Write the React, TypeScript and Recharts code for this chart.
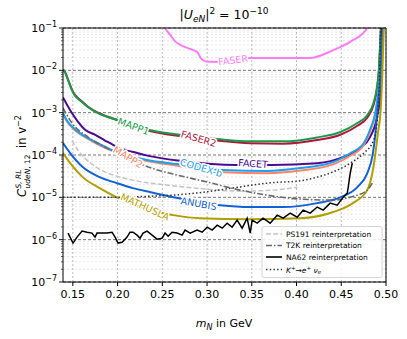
import React from 'react';
import { LineChart, Line, XAxis, YAxis, CartesianGrid, ReferenceDot } from 'recharts';

const FONT = '"DejaVu Sans", Verdana, sans-serif';

// axes
const xTicks = [0.15, 0.2, 0.25, 0.3, 0.35, 0.4, 0.45, 0.5];
const yDecades = [1e-7, 1e-6, 1e-5, 1e-4, 1e-3, 1e-2, 1e-1];
const minorSteps = [2, 3, 4, 5, 6, 7, 8, 9];
const yMinor = yDecades.slice(0, -1).flatMap((d) => minorSteps.map((s) => +(s * d).toPrecision(2)));

// FASER
const faserM = [0.25, 0.253, 0.259, 0.264, 0.27, 0.281, 0.289, 0.293, 0.299, 0.311, 0.33, 0.348, 0.38, 0.415, 0.441, 0.46, 0.479, 0.482];
const faserC = [0.13, 0.1, 0.068, 0.049, 0.04, 0.032, 0.027, 0.0195, 0.0162, 0.0158, 0.0175, 0.0195, 0.0195, 0.0195, 0.03, 0.047, 0.1, 0.13];

// MAPP1 / FASER2 share a mass grid
const mappM = [0.139, 0.141, 0.1446, 0.149, 0.152, 0.16, 0.167, 0.178, 0.189, 0.2005, 0.236, 0.27, 0.311, 0.348, 0.385, 0.423, 0.449, 0.468, 0.479, 0.486, 0.49, 0.492, 0.494, 0.4945];
const mapp1C = [1.02e-2, 9.1e-3, 5.9e-3, 3.4e-3, 2.6e-3, 1.8e-3, 1.35e-3, 9.8e-4, 7.9e-4, 6.7e-4, 3.9e-4, 3.0e-4, 2.4e-4, 2.1e-4, 2.1e-4, 2.6e-4, 3.5e-4, 5.7e-4, 8.7e-4, 1.7e-3, 4.1e-3, 1.0e-2, 7.6e-2, 1.2e-1];
const faser2C = [1.05e-2, 9.4e-3, 6.1e-3, 3.5e-3, 2.7e-3, 1.85e-3, 1.38e-3, 1.0e-3, 8.0e-4, 6.6e-4, 3.7e-4, 2.8e-4, 2.2e-4, 1.9e-4, 1.85e-4, 2.25e-4, 3.0e-4, 4.9e-4, 7.6e-4, 1.5e-3, 3.7e-3, 9.5e-3, 7.0e-2, 1.2e-1];

// FACET
const facetM = [0.139, 0.149, 0.156, 0.164, 0.175, 0.186, 0.2, 0.222, 0.236, 0.272, 0.332, 0.372, 0.423, 0.452, 0.471, 0.482, 0.49, 0.494, 0.4955];
const facetC = [2.3e-3, 9.8e-4, 6.0e-4, 3.9e-4, 3.0e-4, 2.2e-4, 1.54e-4, 1.11e-4, 9.4e-5, 7.2e-5, 5.8e-5, 5.8e-5, 6.4e-5, 8.9e-5, 1.45e-4, 2.6e-4, 7.9e-4, 3.0e-3, 1.2e-1];

// CODEX-b / MAPP2 share a mass grid
const codexM = [0.139, 0.143, 0.152, 0.167, 0.18, 0.194, 0.233, 0.267, 0.318, 0.367, 0.404, 0.441, 0.46, 0.475, 0.482, 0.488, 0.491, 0.494, 0.496, 0.497];
const codexC = [9.8e-4, 6.7e-4, 4.1e-4, 2.5e-4, 1.8e-4, 1.3e-4, 7.6e-5, 6.1e-5, 4.4e-5, 4.2e-5, 4.9e-5, 6.8e-5, 1.1e-4, 1.9e-4, 3.9e-4, 9.8e-4, 2.6e-3, 1.0e-2, 3.9e-2, 1.0e-1];
const mapp2C = [9.5e-4, 6.4e-4, 3.9e-4, 2.4e-4, 1.7e-4, 1.25e-4, 7.2e-5, 5.6e-5, 3.9e-5, 3.7e-5, 4.3e-5, 6.0e-5, 9.6e-5, 1.7e-4, 3.5e-4, 9.0e-4, 2.4e-3, 9.5e-3, 3.8e-2, 1.0e-1];

// ANUBIS
const anubisM = [0.139, 0.147, 0.161, 0.18, 0.199, 0.217, 0.236, 0.267, 0.315, 0.348, 0.385, 0.423, 0.449, 0.468, 0.479, 0.485, 0.488, 0.49, 0.493, 0.495, 0.4965];
const anubisC = [1.91e-4, 1.11e-4, 5.2e-5, 3.0e-5, 2.17e-5, 1.65e-5, 1.33e-5, 9.6e-6, 6.5e-6, 5.9e-6, 5.9e-6, 7.3e-6, 1.0e-5, 1.74e-5, 3.7e-5, 9.95e-5, 2.95e-4, 8.8e-4, 4.5e-3, 2.3e-2, 1.0e-1];

// MATHUSLA
const mathuslaM = [0.139, 0.147, 0.161, 0.18, 0.199, 0.22, 0.24, 0.262, 0.292, 0.348, 0.404, 0.441, 0.463, 0.479, 0.486, 0.491, 0.494, 0.496, 0.4975];
const mathuslaC = [1.11e-4, 6.4e-5, 3.0e-5, 1.65e-5, 1.0e-5, 6.5e-6, 4.7e-6, 3.8e-6, 3.2e-6, 3.05e-6, 3.2e-6, 4.5e-6, 7.3e-6, 1.48e-5, 5.2e-5, 3.3e-4, 1.15e-3, 1.0e-2, 1.0e-1];

// reinterpretations
const ps191M = [0.149, 0.155, 0.161, 0.167, 0.18, 0.199, 0.217, 0.236, 0.255, 0.3, 0.337, 0.374, 0.401];
const ps191C = [2.2e-4, 1.37e-4, 9.4e-5, 7.2e-5, 4.6e-5, 3.17e-5, 2.55e-5, 2.17e-5, 1.95e-5, 1.56e-5, 1.4e-5, 1.48e-5, 1.74e-5];

const t2kM = [0.139, 0.149, 0.167, 0.186, 0.205, 0.223, 0.242, 0.262, 0.3, 0.337, 0.374, 0.404, 0.441, 0.46, 0.479, 0.486];
const t2kC = [1.29e-3, 5.7e-4, 2.65e-4, 1.54e-4, 9.4e-5, 6.4e-5, 4.6e-5, 3.55e-5, 2.3e-5, 1.48e-5, 1.07e-5, 9.1e-6, 8.6e-6, 1.01e-5, 1.48e-5, 2.4e-5];

const na62M = [0.1446, 0.1502, 0.1547, 0.1603, 0.1658, 0.1714, 0.1748, 0.177, 0.1826, 0.1882, 0.1938, 0.1972, 0.2005, 0.205, 0.2106, 0.2139, 0.2173, 0.2218, 0.2251, 0.2285, 0.233, 0.2386, 0.2441, 0.2497, 0.2531, 0.2565, 0.2609, 0.2665, 0.2721, 0.2755, 0.2811, 0.2889, 0.2945, 0.3001, 0.3057, 0.3113, 0.3169, 0.3224, 0.328, 0.3336, 0.3392, 0.3448, 0.3482, 0.3504, 0.356, 0.3627, 0.3705, 0.3784, 0.3851, 0.3929, 0.4007, 0.4074, 0.4153, 0.4231, 0.4298, 0.4376, 0.4455, 0.4522, 0.4567, 0.4578, 0.46, 0.4623];
const na62C = [1.43e-6, 8.3e-7, 1.15e-6, 1.59e-6, 1.5e-6, 1.43e-6, 1.15e-6, 1.43e-6, 1.43e-6, 1.43e-6, 1.5e-6, 1.15e-6, 8.3e-7, 8.7e-7, 1.15e-6, 1.5e-6, 1.5e-6, 1.28e-6, 1.08e-6, 1.43e-6, 1.59e-6, 1.28e-6, 1.03e-6, 1.08e-6, 1.43e-6, 1.21e-6, 1.5e-6, 1.43e-6, 1.28e-6, 1.68e-6, 1.43e-6, 1.68e-6, 1.5e-6, 1.98e-6, 1.68e-6, 2.2e-6, 1.87e-6, 2.45e-6, 1.98e-6, 2.89e-6, 1.87e-6, 3.22e-6, 1.43e-6, 2.89e-6, 2.45e-6, 3.22e-6, 2.45e-6, 3.79e-6, 3.22e-6, 4.23e-6, 3.4e-6, 4.98e-6, 4.23e-6, 5.9e-6, 4.98e-6, 7.3e-6, 6.5e-6, 1.01e-5, 1.26e-5, 1.74e-5, 3.73e-5, 6.44e-5];

const kenuM = [0.139, 0.2, 0.22, 0.24, 0.259, 0.296, 0.334, 0.371, 0.404, 0.423, 0.441, 0.46, 0.475, 0.486, 0.49, 0.492, 0.494];
const kenuC = [1.0e-5, 1.0e-5, 1.03e-5, 1.07e-5, 1.12e-5, 1.32e-5, 1.73e-5, 2.2e-5, 2.45e-5, 3.0e-5, 4.0e-5, 6.4e-5, 1.1e-4, 2.2e-4, 6.0e-4, 2.0e-3, 1.2e-1];

const zip = (m: number[], c: number[]) => m.map((x, i) => ({ m: x, c: c[i] }));

const C = {
  faser: '#ff7cf5',
  mapp1: '#1c9a48',
  faser2: '#b0163e',
  facet: '#4b0b8e',
  codex: '#1ea0ee',
  mapp2: '#fa8466',
  anubis: '#1261d6',
  mathusla: '#b39e00',
};

// inline curve labels (text placed on the curves)
const curveLabels = [
  { text: 'FASER', m: 0.3292, c: 1.75e-2, angle: -7, color: C.faser },
  { text: 'MAPP1', m: 0.2179, c: 4.8e-4, angle: 20, color: C.mapp1 },
  { text: 'FASER2', m: 0.2906, c: 2.44e-4, angle: 16, color: C.faser2 },
  { text: 'FACET', m: 0.3515, c: 6.3e-5, angle: 4, color: C.facet },
  { text: 'MAPP2', m: 0.2117, c: 9.0e-5, angle: 31, color: C.mapp2 },
  { text: 'CODEX-b', m: 0.2934, c: 5.0e-5, angle: 16, color: C.codex },
  { text: 'ANUBIS', m: 0.2906, c: 7.1e-6, angle: 10, color: C.anubis },
  { text: 'MATHUSLA', m: 0.2307, c: 6.0e-6, angle: 24, color: C.mathusla },
];

const YTick = (props: any) => {
  const { x, y, payload } = props;
  const lg = Math.log10(payload.value);
  const e = Math.round(lg);
  const major = Math.abs(lg - e) < 1e-6;
  return (
    <g>
      <line x1={x + (major ? 2 : 4)} x2={x + 6} y1={y} y2={y} stroke="#000" strokeWidth={major ? 0.9 : 0.6} />
      {major && (
        <text x={x} y={y + 4} textAnchor="end" fontSize={11} fontFamily={FONT} fill="#000">
          10<tspan dy={-5} fontSize={8}>{`\u2212${-e}`}</tspan>
        </text>
      )}
    </g>
  );
};

const makeLabel = (text: string, color: string, angle: number) => (props: any) => {
  const vb = props.viewBox || {};
  const cx = vb.x + (vb.width || 0) / 2;
  const cy = vb.y + (vb.height || 0) / 2;
  return (
    <text
      x={cx}
      y={cy}
      transform={`rotate(${angle}, ${cx}, ${cy})`}
      textAnchor="middle"
      dominantBaseline="central"
      fontSize={9.6}
      fontFamily={FONT}
      fill={color}
      stroke="#fff"
      strokeWidth={3}
      paintOrder="stroke"
    >
      {text}
    </text>
  );
};

const LegendBox = () => {
  const rows = [
    { y: 234, stroke: '#c4c4c4', dash: '5 2.2', w: 1.5 },
    { y: 245.5, stroke: '#696969', dash: '6 2 1.5 2', w: 1.6 },
    { y: 257, stroke: '#000', dash: undefined, w: 1.6 },
    { y: 269.5, stroke: '#333', dash: '1.5 2.2', w: 1.5 },
  ];
  return (
    <g fontFamily={FONT} fontSize={7.5} fill="#000">
      <rect x={262} y={226.5} width={120} height={51} rx={2} fill="#fff" fillOpacity={0.85} stroke="#cccccc" strokeWidth={0.8} />
      {rows.map((r, i) => (
        <line key={i} x1={266} x2={282} y1={r.y} y2={r.y} stroke={r.stroke} strokeWidth={r.w} strokeDasharray={r.dash} />
      ))}
      <text x={286} y={236.7}>PS191 reinterpretation</text>
      <text x={286} y={248.2}>T2K reinterpretation</text>
      <text x={286} y={259.7}>NA62 reinterpretation</text>
      <text x={286} y={272.5}>
        <tspan fontStyle="italic">K</tspan>
        <tspan dy={-3} fontSize={5.5}>+</tspan>
        <tspan dy={3}>{'\u2192'}</tspan>
        <tspan fontStyle="italic">e</tspan>
        <tspan dy={-3} fontSize={5.5}>+</tspan>
        <tspan dy={3}> </tspan>
        <tspan fontStyle="italic">{'\u03bd'}</tspan>
        <tspan dy={1.8} fontSize={5.5} fontStyle="italic">e</tspan>
      </text>
    </g>
  );
};

export default function App() {
  const yDomain: [number, number] = [1e-7, 1e-1];
  const xDomain: [number, number] = [0.139, 0.5];
  const detector = (data: any[], color: string, key: string) => (
    <Line
      key={key}
      data={data}
      dataKey="c"
      type="monotone"
      stroke={color}
      strokeWidth={2}
      dot={false}
      activeDot={false}
      isAnimationActive={false}
    />
  );

  return (
    <div style={{ position: 'absolute', left: 0, top: 0, width: 407, height: 339, background: '#fff' }}>
      <LineChart width={407} height={339} margin={{ top: 27, right: 20, bottom: 27, left: 23 }}>
        <CartesianGrid horizontalValues={yMinor} vertical={false} stroke="#d6d6d6" strokeDasharray="2 2" strokeWidth={0.6} />
        <CartesianGrid horizontalValues={yDecades} vertical={false} stroke="#3a3a3a" strokeDasharray="3 2" strokeWidth={0.7} />
        <CartesianGrid verticalValues={xTicks} horizontal={false} stroke="#a8a8a8" strokeDasharray="2 2" strokeWidth={0.8} />
        <XAxis
          dataKey="m"
          type="number"
          domain={xDomain}
          allowDataOverflow
          ticks={xTicks}
          interval={0}
          tickFormatter={(v: number) => v.toFixed(2)}
          tick={{ fontSize: 11, fill: '#000', fontFamily: FONT }}
          tickSize={4}
          tickMargin={4}
          height={30}
          stroke="#000"
        />
        <XAxis xAxisId="top" orientation="top" type="number" domain={xDomain} allowDataOverflow ticks={xTicks} tick={false} tickLine={false} height={1} stroke="#000" />
        <YAxis
          scale="log"
          type="number"
          domain={yDomain}
          allowDataOverflow
          ticks={[...yDecades, ...yMinor]}
          interval={0}
          tick={<YTick />}
          tickLine={false}
          tickSize={4}
          tickMargin={2}
          width={40}
          stroke="#000"
        />
        <YAxis yAxisId="right" orientation="right" scale="log" type="number" domain={yDomain} allowDataOverflow ticks={yDecades} tick={false} tickLine={false} width={1} stroke="#000" />

        {detector(zip(faserM, faserC), C.faser, 'faser')}
        {detector(zip(mappM, faser2C), C.faser2, 'faser2')}
        {detector(zip(mappM, mapp1C), C.mapp1, 'mapp1')}
        {detector(zip(facetM, facetC), C.facet, 'facet')}
        {detector(zip(codexM, mapp2C), C.mapp2, 'mapp2')}
        {detector(zip(codexM, codexC), C.codex, 'codex')}
        {detector(zip(anubisM, anubisC), C.anubis, 'anubis')}
        {detector(zip(mathuslaM, mathuslaC), C.mathusla, 'mathusla')}

        <Line data={zip(ps191M, ps191C)} dataKey="c" type="monotone" stroke="#c4c4c4" strokeWidth={1.5} strokeDasharray="5 2.2" dot={false} activeDot={false} isAnimationActive={false} />
        <Line data={zip(t2kM, t2kC)} dataKey="c" type="monotone" stroke="#696969" strokeWidth={1.6} strokeDasharray="6 2 1.5 2" dot={false} activeDot={false} isAnimationActive={false} />
        <Line data={zip(kenuM, kenuC)} dataKey="c" type="monotone" stroke="#333" strokeWidth={1.5} strokeDasharray="1.5 2.2" dot={false} activeDot={false} isAnimationActive={false} />
        <Line data={zip(na62M, na62C)} dataKey="c" type="linear" stroke="#000" strokeWidth={1.5} dot={false} activeDot={false} isAnimationActive={false} />

        {curveLabels.map((l) => (
          <ReferenceDot key={l.text} x={l.m} y={l.c} r={0} fill="none" stroke="none" label={makeLabel(l.text, l.color, l.angle)} />
        ))}
      </LineChart>

      <svg width={407} height={339} style={{ position: 'absolute', left: 0, top: 0, pointerEvents: 'none' }}>
        <text x={224} y={19} textAnchor="middle" fontSize={12.5} fontFamily={FONT} fill="#000">
          |<tspan fontStyle="italic">U</tspan>
          <tspan dy={3} fontSize={9} fontStyle="italic">eN</tspan>
          <tspan dy={-3}>|</tspan>
          <tspan dy={-5} fontSize={9}>2</tspan>
          <tspan dy={5}> = 10</tspan>
          <tspan dy={-5} fontSize={9}>{'\u221210'}</tspan>
        </text>
        <text x={224} y={327} textAnchor="middle" fontSize={11} fontFamily={FONT} fill="#000">
          <tspan fontStyle="italic">m</tspan>
          <tspan dy={3} fontSize={8} fontStyle="italic">N</tspan>
          <tspan dy={-3}> in GeV</tspan>
        </text>
        <g transform="translate(22,154) rotate(-90)" fontFamily={FONT} fill="#000">
          <text x={-43} y={4} fontSize={11.5} fontStyle="italic">C</text>
          <text x={-34.5} y={-1.5} fontSize={7.5} fontStyle="italic">S, RL</text>
          <text x={-34.5} y={7.5} fontSize={7.5}>
            <tspan fontStyle="italic">udeN</tspan>, 12
          </text>
          <text x={6} y={4} fontSize={11.5}>
            in v<tspan dy={-5} fontSize={8}>{'\u22122'}</tspan>
          </text>
        </g>
        <LegendBox />
      </svg>
    </div>
  );
}
